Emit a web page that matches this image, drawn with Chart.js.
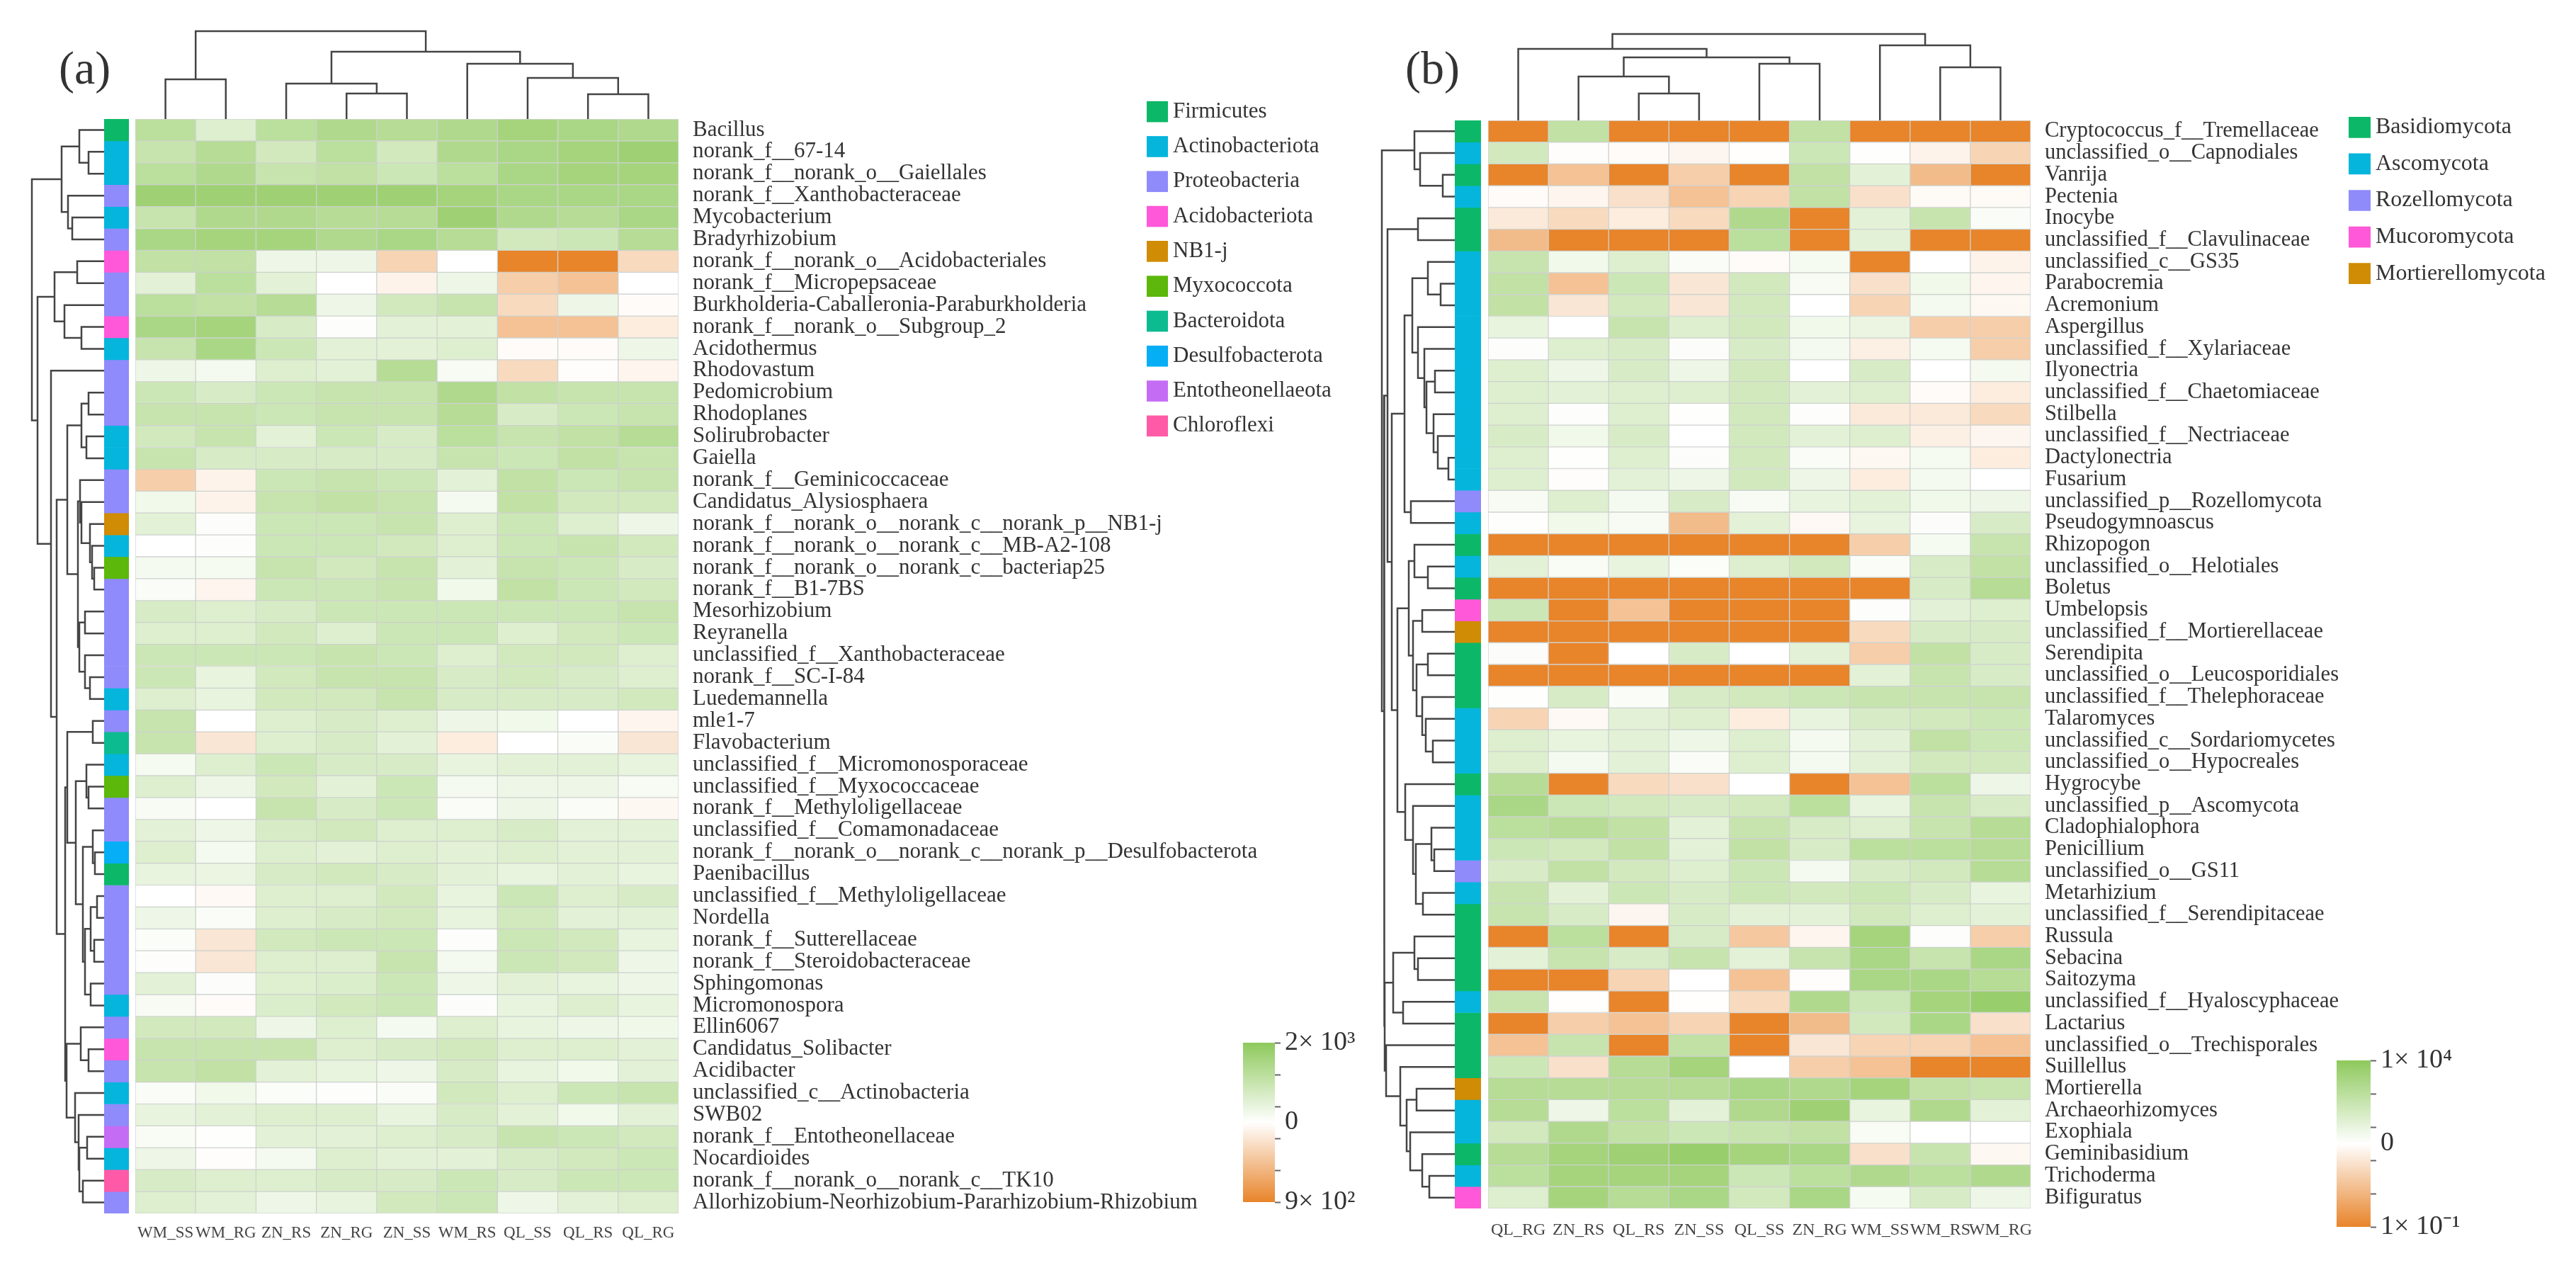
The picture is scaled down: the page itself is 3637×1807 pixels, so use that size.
<!DOCTYPE html>
<html>
<head>
<meta charset="utf-8">
<title>Heatmaps</title>
<script src="https://cdn.jsdelivr.net/npm/chart.js@4"></script>
<style>
  html, body { margin: 0; background: #fff; overflow: hidden; }
  canvas { position: absolute; }
  .panel { position: absolute; font-family: "Liberation Serif", serif; font-size: 66px; color: #333; line-height: 1; }
</style>
</head>
<body>
<div class="panel" style="left:83px;top:63px">(a)</div>
<div class="panel" style="left:1984px;top:63px">(b)</div>
<script>
// cell values are read as positions on each colour bar: -10 (bottom) .. 0 .. 10 (top)
const bacteriaSamples = ['WM_SS', 'WM_RG', 'ZN_RS', 'ZN_RG', 'ZN_SS', 'WM_RS', 'QL_SS', 'QL_RS', 'QL_RG'];
const bacteriaGenera = [
  'Bacillus', 'norank_f__67-14', 'norank_f__norank_o__Gaiellales', 'norank_f__Xanthobacteraceae', 'Mycobacterium',
  'Bradyrhizobium', 'norank_f__norank_o__Acidobacteriales', 'norank_f__Micropepsaceae',
  'Burkholderia-Caballeronia-Paraburkholderia', 'norank_f__norank_o__Subgroup_2', 'Acidothermus', 'Rhodovastum',
  'Pedomicrobium', 'Rhodoplanes', 'Solirubrobacter', 'Gaiella', 'norank_f__Geminicoccaceae', 'Candidatus_Alysiosphaera',
  'norank_f__norank_o__norank_c__norank_p__NB1-j', 'norank_f__norank_o__norank_c__MB-A2-108',
  'norank_f__norank_o__norank_c__bacteriap25', 'norank_f__B1-7BS', 'Mesorhizobium', 'Reyranella',
  'unclassified_f__Xanthobacteraceae', 'norank_f__SC-I-84', 'Luedemannella', 'mle1-7', 'Flavobacterium',
  'unclassified_f__Micromonosporaceae', 'unclassified_f__Myxococcaceae', 'norank_f__Methyloligellaceae',
  'unclassified_f__Comamonadaceae', 'norank_f__norank_o__norank_c__norank_p__Desulfobacterota', 'Paenibacillus',
  'unclassified_f__Methyloligellaceae', 'Nordella', 'norank_f__Sutterellaceae', 'norank_f__Steroidobacteraceae',
  'Sphingomonas', 'Micromonospora', 'Ellin6067', 'Candidatus_Solibacter', 'Acidibacter', 'unclassified_c__Actinobacteria',
  'SWB02', 'norank_f__Entotheonellaceae', 'Nocardioides', 'norank_f__norank_o__norank_c__TK10',
  'Allorhizobium-Neorhizobium-Pararhizobium-Rhizobium'
];
const bacteriaLevels = [
  [6, 3, 6, 7, 6.5, 7, 8, 7.5, 7],
  [5, 6.5, 4, 6, 4, 7, 7.5, 8, 8.5],
  [6, 7, 5, 5.5, 4.5, 6, 7.5, 8, 8],
  [8.5, 8.5, 8.5, 8.5, 8.5, 8, 7.5, 7.5, 7.5],
  [5, 7, 7, 6.5, 6.5, 8.5, 7, 6.5, 7.5],
  [7.5, 8, 8, 7, 7.5, 6.5, 4, 4.5, 6.5],
  [5.5, 5.5, 1.5, 1.5, -3.5, 0, -10, -10, -3],
  [2.5, 6, 2.5, 0, -1, 1.5, -4, -5, 0],
  [6, 5.5, 6.5, 1.5, 4, 5, -3, 1.5, -0.3],
  [7.5, 8, 3.5, 0.2, 2.5, 2.5, -5, -5, -1.5],
  [5, 7.5, 4.5, 2.5, 2.5, 3, -0.3, -0.3, 1.5],
  [1.5, 1, 3, 2.5, 6.5, 0.7, -3, -0.2, -0.8],
  [4.5, 3.5, 4.5, 5, 5, 7, 5.5, 5, 5],
  [5, 5, 4.5, 5, 5, 6.5, 3.5, 4.5, 5],
  [4, 5, 2.5, 4.5, 3.5, 6, 5, 5.5, 6.5],
  [5, 3.5, 3.5, 3.5, 3.5, 5, 4.5, 5.5, 5],
  [-4, -1, 4.5, 5, 4.5, 2.5, 5.5, 4.5, 5],
  [1.2, -1, 5, 5.5, 5, 1, 5.5, 4, 4],
  [2.5, 0.3, 4.5, 4.5, 5, 3, 4.5, 3, 1.5],
  [0, 0.2, 4.5, 4.5, 4, 3, 4.5, 5, 4],
  [1, 0.8, 5, 4, 5, 2.5, 5, 4.5, 3.5],
  [0.5, -0.8, 4.5, 4.5, 5, 1.2, 5.5, 4.5, 4],
  [3.5, 3, 3.5, 4.5, 4.5, 4.5, 4.5, 4.5, 5],
  [3, 3, 4, 3, 4.5, 4.5, 3, 4, 4.5],
  [4.5, 4.5, 4.5, 5, 4.5, 3, 4, 4, 3],
  [4.5, 2, 4, 5, 5, 3.5, 4, 3.5, 3],
  [3, 2, 4, 4, 5, 3.5, 3.5, 3.5, 4],
  [5, 0, 3, 3.5, 3, 1.5, 1.2, 0, -0.8],
  [5, -2, 3, 3.5, 2.5, -1.5, 0, 0.5, -2],
  [0.8, 3, 4.5, 3.5, 3.5, 2, 2.5, 2.5, 2],
  [3, 1.5, 4, 2.5, 4.5, 1, 1.5, 1.5, 0.7],
  [0.7, 0, 5, 3.5, 4.5, 0.5, 1.5, 0.5, -0.6],
  [2.5, 1.5, 3.5, 4, 3, 3, 3.5, 2.5, 2.5],
  [3, 1, 3, 2.5, 3, 2.5, 3, 2.5, 2.5],
  [2, 1.8, 3.5, 4, 3.5, 2.5, 2, 2.5, 2],
  [0, -0.5, 3, 3, 4, 2, 4.5, 3, 3.5],
  [1.5, 0.5, 3, 3.5, 4, 2, 4, 2.5, 2.5],
  [0.4, -2, 4, 4.5, 4.5, 0.2, 4.5, 4, 2],
  [0.2, -2, 3, 3, 5, 1, 4.5, 4, 1.5],
  [2.5, 0.3, 2.8, 3.2, 4.5, 1.5, 2.5, 2, 1.5],
  [0.7, -0.3, 3.2, 4, 4.5, 0.3, 2, 3, 2],
  [4, 4, 1.5, 3, 1, 3, 2, 1.5, 1.3],
  [5, 5, 5, 3, 3.5, 4, 3, 3, 2.5],
  [5, 5.5, 2.5, 2, 1.5, 3.5, 2, 1.2, 2.5],
  [0.5, 1.2, 0.4, 0.2, 0.5, 4, 3, 4.5, 5],
  [2, 2.5, 3, 3, 2, 3.5, 2.5, 1.2, 2.5],
  [0.6, 0.1, 2.5, 2.5, 3, 3.5, 5, 4.5, 4],
  [1.5, -0.2, 1, 3, 2.5, 2.5, 3.5, 4, 4.5],
  [3.5, 3, 3, 3.5, 3.5, 4.5, 3.5, 4.5, 4.5],
  [3, 2.5, 1.5, 2, 4, 4.5, 1.5, 2.5, 3]
];
const bacteriaPhyla = ['Firmicutes', 'Actinobacteriota', 'Proteobacteria', 'Acidobacteriota', 'NB1-j', 'Myxococcota', 'Bacteroidota', 'Desulfobacterota', 'Entotheonellaeota', 'Chloroflexi'];
const bacteriaPhylaColors = ['#0cb868', '#05b5dc', '#8f8bfb', '#ff58d8', '#d08c05', '#5cb80a', '#0dbb90', '#05aef5', '#c56cf5', '#ff5aa8'];
const bacteriaGenusPhylum = [0, 1, 1, 2, 1, 2, 3, 2, 2, 3, 1, 2, 2, 2, 1, 1, 2, 2, 4, 1, 5, 2, 2, 2, 2, 2, 1, 2, 6, 1, 5, 2, 2, 7, 0, 2, 2, 2, 2, 2, 1, 2, 3, 2, 1, 2, 8, 1, 9, 2];
// dendrograms: [height, left, right], a plain number is a leaf index
const bacteriaSampleTree = [124, [56, 0, 1], [95, [50, 2, [36, 3, 4]], [78, 5, [58, 6, [35, 7, 8]]]]];
const bacteriaGenusTree = [102,
  [60, [35, 0, [22, 1, 2]], [51, 3, [45, 4, 5]]],
  [94,
    [70, [38, 6, 7], [56, 8, [32, 9, 10]]],
    [75, 11, [67,
      [52,
        [32, [22, 12, 13], [25, 14, 15]],
        [37, [34, 16, [32, 17, [20, 18, [17, 19, [14, 20, 21]]]]], [35, [27, 22, 23], [27, 24, [20, 25, 26]]]]],
      [55,
        [52, [16, 27, 28], [40, [25, 29, [22, 30, 31]], [30, [16, 32, [13, 33, 34]], [27, [19, [10, 35, 36], [14, 37, 38]], [19, 39, 40]]]]],
        [53, [33, 41, [22, 42, 43]], [41, 44, [36, 45, [35, [24, 46, 47], [30, 48, 49]]]]]
      ]
    ]]
  ]
];

const fungiSamples = ['QL_RG', 'ZN_RS', 'QL_RS', 'ZN_SS', 'QL_SS', 'ZN_RG', 'WM_SS', 'WM_RS', 'WM_RG'];
const fungiGenera = [
  'Cryptococcus_f__Tremellaceae', 'unclassified_o__Capnodiales', 'Vanrija', 'Pectenia', 'Inocybe',
  'unclassified_f__Clavulinaceae', 'unclassified_c__GS35', 'Parabocremia', 'Acremonium', 'Aspergillus',
  'unclassified_f__Xylariaceae', 'Ilyonectria', 'unclassified_f__Chaetomiaceae', 'Stilbella', 'unclassified_f__Nectriaceae',
  'Dactylonectria', 'Fusarium', 'unclassified_p__Rozellomycota', 'Pseudogymnoascus', 'Rhizopogon', 'unclassified_o__Helotiales',
  'Boletus', 'Umbelopsis', 'unclassified_f__Mortierellaceae', 'Serendipita', 'unclassified_o__Leucosporidiales',
  'unclassified_f__Thelephoraceae', 'Talaromyces', 'unclassified_c__Sordariomycetes', 'unclassified_o__Hypocreales', 'Hygrocybe',
  'unclassified_p__Ascomycota', 'Cladophialophora', 'Penicillium', 'unclassified_o__GS11', 'Metarhizium',
  'unclassified_f__Serendipitaceae', 'Russula', 'Sebacina', 'Saitozyma', 'unclassified_f__Hyaloscyphaceae', 'Lactarius',
  'unclassified_o__Trechisporales', 'Suillellus', 'Mortierella', 'Archaeorhizomyces', 'Exophiala', 'Geminibasidium',
  'Trichoderma', 'Bifiguratus'
];
const fungiLevels = [
  [-10, 5.5, -10, -10, -10, 5.5, -10, -10, -10],
  [4, -0.2, -0.3, -0.7, -0.1, 4.5, 0.1, -1, -3.5],
  [-10, -5, -10, -4, -10, 5.5, 2.5, -5.5, -10],
  [-0.3, -0.8, -2.5, -5, -3.5, 5.5, -2.5, -0.4, -0.4],
  [-1.8, -3, -1.5, -3, 7, -10, 2.5, 5, 0.5],
  [-5.5, -10, -10, -10, 6, -10, 2.5, -10, -10],
  [5, 1.2, 3, 0.5, -0.3, 0.8, -10, 0, -1],
  [5.5, -5, 4.5, -2, 4, 0.7, -2.5, 1.2, -0.8],
  [5.5, -2, 4, -2, 4, 0, -3.5, 1, -0.6],
  [2, 0, 5, 3, 4, 1.2, 1.8, -4, -4],
  [0.2, 3, 3.5, 0.3, 3.5, 1, -1.3, 0.8, -4],
  [3, 1.5, 3.5, 1.5, 4, 0, 3.5, 0, 1],
  [3, 2.5, 3, 3, 4, 2.5, 3, -0.3, -1.5],
  [3, 0.2, 3, 0.1, 4, 0.2, -1.8, -1.8, -3],
  [3.5, 1.2, 3.5, 0, 4, 2.5, 3, -1.2, -0.7],
  [3, 0.1, 3, 0.3, 4, 0.5, -0.6, 0.8, -1.5],
  [3, -0.2, 2.5, 1.5, 4, 1.5, -1.5, 1, 0],
  [0.7, 3, 1, 3.5, 0.7, 2, 2.5, 1.2, 1.5],
  [0.1, 1.2, 0.7, -5.5, 2.5, -0.5, 2, 0.3, 3.5],
  [-10, -10, -10, -10, -10, -10, -4, 0.8, 5],
  [2.5, 0.6, 2, 0.4, 3, 4, 0.5, 3.5, 5.5],
  [-10, -10, -10, -10, -10, -10, -10, 3.5, 6.5],
  [4.5, -10, -5, -10, -10, -10, 0.2, 2.5, 3],
  [-10, -10, -10, -10, -10, -10, -3, 3.5, 3.5],
  [0.3, -10, 0, 3.5, 0, 2.5, -4, 5.5, 3.5],
  [-10, -10, -10, -10, -10, -10, 2.5, 5, 3.5],
  [0.1, 3.5, 0.5, 3.5, 4, 4.5, 5, 5, 5],
  [-3.5, -0.5, 2.5, 3, -1.5, 2, 3.5, 4, 4.5],
  [3, 2, 2.5, 1.5, 3, 1, 2.5, 5.5, 4.5],
  [3, 1, 2.5, 0.5, 3, 1, 2.5, 4, 4],
  [6.5, -10, -3, -2.5, 0, -10, -5, 6, 1.5],
  [7.5, 4.5, 4, 3.5, 4, 6, 2, 5, 3.5],
  [6, 6.5, 5.5, 2.5, 5, 3.5, 3, 5, 6.5],
  [4.5, 4, 5.5, 2.5, 5.5, 3.5, 6, 6, 6.5],
  [3.5, 5.5, 4, 3, 4.5, 1, 3.5, 4, 6.5],
  [5, 2.5, 4.5, 3.5, 4.5, 4, 4.5, 3.5, 2],
  [5, 3.5, -0.7, 3.5, 2.5, 2.5, 4, 3, 2.5],
  [-10, 6, -10, 3.5, -4.5, -0.8, 8, 0.2, -4],
  [2.5, 5, 3.5, 5, 2.5, 5, 7.5, 5, 7.5],
  [-10, -10, -3.5, 0, -5, -0.2, 7.5, 7.5, 6.5],
  [5, -0.1, -10, -0.1, -3, 7, 4.5, 8, 9],
  [-10, -4, -5, -3.5, -10, -5.5, 4, 7.5, -2.5],
  [-5, 5, -10, 5.5, -10, -2, -3.5, -3.5, -5],
  [4.5, -2.5, 6.5, 8, 0, -4, -5, -10, -10],
  [6.5, 6.5, 6.5, 6.5, 7.5, 7, 8, 5.5, 5],
  [6.5, 1.5, 6, 2.5, 7, 8.5, 2, 7, 2.5],
  [4, 7, 5.5, 4.5, 5, 5.5, 0.6, 0, 0],
  [6.5, 8, 8.5, 9, 8, 7.5, -2.5, 5, -0.6],
  [6, 8, 8, 8, 4.5, 6, 7, 6, 7],
  [3, 8, 6.5, 7.5, 4, 7.5, 0.8, 3.5, 1.5]
];
const fungiPhyla = ['Basidiomycota', 'Ascomycota', 'Rozellomycota', 'Mucoromycota', 'Mortierellomycota'];
const fungiPhylaColors = ['#0cb868', '#05b5dc', '#8f8bfb', '#ff58d8', '#d08c05'];
const fungiGenusPhylum = [0, 1, 0, 1, 0, 0, 1, 1, 1, 1, 1, 1, 1, 1, 1, 1, 1, 2, 1, 0, 1, 0, 3, 4, 0, 0, 0, 1, 1, 1, 0, 1, 1, 1, 2, 1, 0, 0, 0, 0, 1, 0, 0, 0, 4, 1, 1, 0, 1, 3];
const fungiSampleTree = [122, [101, 0, [89, [62, 1, [38, 2, 3]], [80, 4, 5]]], [106, 6, [75, 7, 8]]];
const fungiGenusTree = [103,
  [57, 0, [49, 1, [17, 2, 3]]],
  [100,
    [95, [52, 4, 5], [89,
      [71, [60, [38, 6, [20, 7, 8]], [52, 9, [43, 10, [40, [28, 11, 12], [30, 13, [24, 14, [9, 15, 16]]]]]]], [62, 17, 18]],
      [81,
        [65, [57, 19, [38, 20, 21]], [59, [46, 22, 23], [54, [38, 24, 25], [46, 26, [41, 27, [31, 28, 29]]]]]],
        [70, 30, [59, 31, [55, [33, 32, [29, 33, 34]], [45, 35, 36]]]]]]],
    [99,
      [87, [57, 37, [52, 38, 39]], [73, 40, 41]],
      [97, 42, [77, 43, [68, [54, 44, 45], [63, 46, [46, 47, [36, 48, 49]]]]]]]]
];

const serif = '"Liberation Serif", "Times New Roman", serif';
const textColor = '#333';
const lineColor = '#444';

function addCanvas(left, top, width, height) {
  const c = document.createElement('canvas');
  c.width = width; c.height = height;
  c.style.left = left + 'px'; c.style.top = top + 'px';
  c.style.width = width + 'px'; c.style.height = height + 'px';
  document.body.appendChild(c);
  return c;
}

function mix(a, b, t) {
  return 'rgb(' + a.map((v, i) => Math.round(v + (b[i] - v) * t)).join(',') + ')';
}
function levelColor(level) {
  const white = [255, 255, 255];
  return level >= 0 ? mix(white, [142, 201, 92], level / 10) : mix(white, [232, 132, 42], -level / 10);
}

const baseOptions = {
  responsive: false,
  animation: false,
  events: [],
  plugins: { legend: { display: false }, tooltip: { enabled: false } }
};

// tick labels would otherwise push the chart area in by half a label
function fixSize(s, width, height) {
  if (width !== null) s.width = width;
  if (height !== null) s.height = height;
  s.paddingLeft = s.paddingRight = s.paddingTop = s.paddingBottom = 0;
}

// stacked unit bars, one dataset per row, so every row gets a slot of the y scale
function gridChart(box, cols, rows, cellColors, o) {
  const labelRoom = o.labelRoom || 0, footRoom = o.footRoom || 0;
  new Chart(addCanvas(box.left, box.top, box.width + labelRoom, box.height + footRoom), {
    type: 'bar',
    data: {
      labels: cols,
      datasets: rows.map((name, r) => ({
        label: name,
        data: cols.map(() => 1),
        backgroundColor: cellColors[r],
        borderColor: o.edge || 'transparent',
        borderWidth: o.edge ? 1 : 0,
        borderSkipped: false,
        barPercentage: 1,
        categoryPercentage: 1
      }))
    },
    options: {
      ...baseOptions,
      layout: { padding: 0 },
      scales: {
        x: {
          stacked: true,
          display: footRoom > 0,
          grid: { display: false, drawTicks: false },
          border: { display: false },
          afterFit: s => fixSize(s, null, footRoom),
          ticks: { autoSkip: false, maxRotation: 0, minRotation: 0, padding: o.footPad || 0, color: '#444', font: { family: serif, size: o.footSize || 23 } }
        },
        y: {
          stacked: true,
          reverse: true,
          min: 0,
          max: rows.length,
          position: 'right',
          display: labelRoom > 0,
          grid: { display: false, drawTicks: false },
          border: { display: false },
          afterFit: s => fixSize(s, labelRoom, null),
          afterBuildTicks: s => { s.ticks = rows.map((_, i) => ({ value: i + 0.5 })); },
          ticks: {
            autoSkip: false,
            padding: 20,
            color: textColor,
            font: { family: serif, size: o.rowSize || 30.5 },
            callback: v => rows[Math.floor(v)]
          }
        }
      }
    }
  });
}

// walks a [height, left, right] tree and lists its elbow lines, NaN breaks the line
function treeLines(node, toPoint, out) {
  if (typeof node === 'number') return { pos: node + 0.5, h: 0 };
  const a = treeLines(node[1], toPoint, out);
  const b = treeLines(node[2], toPoint, out);
  const h = node[0];
  out.push(toPoint(a.pos, a.h), toPoint(a.pos, h), toPoint(b.pos, h), toPoint(b.pos, b.h), { x: NaN, y: NaN });
  return { pos: (a.pos + b.pos) / 2, h: h };
}

function treeChart(box, tree, horizontal, leafCount) {
  const pts = [];
  treeLines(tree, horizontal ? (p, h) => ({ x: h, y: p }) : (p, h) => ({ x: p, y: h }), pts);
  const hidden = { display: false };
  new Chart(addCanvas(box.left, box.top, box.width, box.height), {
    type: 'scatter',
    data: { datasets: [{ data: pts, showLine: true, pointRadius: 0, borderColor: lineColor, borderWidth: 2.5, clip: false, spanGaps: false }] },
    options: {
      ...baseOptions,
      layout: { padding: 0 },
      scales: horizontal
        ? { x: { ...hidden, min: 0, max: box.width, reverse: true }, y: { ...hidden, min: 0, max: leafCount, reverse: true } }
        : { x: { ...hidden, min: 0, max: leafCount }, y: { ...hidden, min: 0, max: box.height } }
    }
  });
}

function legendChart(box, names, colors, size) {
  new Chart(addCanvas(box.left, box.top, box.swatch + 340, box.height), {
    type: 'bar',
    data: { labels: names, datasets: [{ data: names.map(() => 1), backgroundColor: colors, barThickness: 29 }] },
    options: {
      ...baseOptions,
      indexAxis: 'y',
      layout: { padding: 0 },
      scales: {
        x: { display: false, min: 0, max: 1 },
        y: {
          position: 'right',
          grid: { display: false, drawTicks: false },
          border: { display: false },
          afterFit: s => fixSize(s, 340, null),
          ticks: { autoSkip: false, padding: 7, color: textColor, font: { family: serif, size: size } }
        }
      }
    }
  });
}

function colorBar(box, labels) {
  const pad = 30;
  new Chart(addCanvas(box.left, box.top - pad, box.width + 170, box.height + pad * 2), {
    type: 'bar',
    data: {
      labels: [''],
      datasets: [{
        data: [[-10, 10]],
        barPercentage: 1,
        categoryPercentage: 1,
        backgroundColor: ctx => {
          const area = ctx.chart.chartArea;
          if (!area) return levelColor(0);
          const g = ctx.chart.ctx.createLinearGradient(0, area.bottom, 0, area.top);
          g.addColorStop(0, levelColor(-10));
          g.addColorStop(0.5, levelColor(0));
          g.addColorStop(1, levelColor(10));
          return g;
        }
      }]
    },
    options: {
      ...baseOptions,
      layout: { padding: { top: pad, bottom: pad } },
      scales: {
        x: { display: false },
        y: {
          position: 'right',
          min: -10,
          max: 10,
          border: { display: false },
          afterFit: s => fixSize(s, 170, null),
          afterBuildTicks: s => { s.ticks = [10, 6, 2, 0, -2, -6, -10].map(v => ({ value: v })); },
          grid: {
            drawOnChartArea: false,
            drawTicks: true,
            tickLength: 8,
            tickWidth: 2,
            tickColor: c => (c.tick && c.tick.value === 0 ? 'transparent' : '#666')
          },
          ticks: {
            autoSkip: false,
            padding: 6,
            color: textColor,
            font: { family: serif, size: 38 },
            callback: v => (v === 10 ? labels[0] : v === 0 ? labels[1] : v === -10 ? labels[2] : '')
          }
        }
      }
    }
  });
}

const cellEdge = 'rgba(200,205,200,0.85)';

function drawPanel(p) {
  gridChart(p.heat, p.samples, p.genera, p.levels.map(row => row.map(levelColor)),
    { edge: cellEdge, labelRoom: 850, footRoom: p.footRoom, footPad: p.footPad, footSize: p.footSize, rowSize: p.rowSize });
  gridChart(p.strip, [''], p.genera, p.genusPhylum.map(i => [p.phylaColors[i]]), {});
  treeChart({ left: p.strip.left - 110, top: p.heat.top, width: 110, height: p.heat.height }, p.genusTree, true, p.genera.length);
  treeChart({ left: p.heat.left, top: p.heat.top - 130, width: p.heat.width, height: 130 }, p.sampleTree, false, p.samples.length);
  legendChart(p.legend, p.phyla, p.phylaColors, p.legendSize);
  colorBar(p.bar, p.barLabels);
}

drawPanel({
  samples: bacteriaSamples, genera: bacteriaGenera, levels: bacteriaLevels,
  phyla: bacteriaPhyla, phylaColors: bacteriaPhylaColors, genusPhylum: bacteriaGenusPhylum,
  genusTree: bacteriaGenusTree, sampleTree: bacteriaSampleTree,
  heat: { left: 191, top: 168, width: 767, height: 1545 },
  strip: { left: 147, top: 168, width: 35, height: 1545 },
  footRoom: 50, footPad: 14, footSize: 23, rowSize: 31,
  legend: { left: 1619, top: 133, swatch: 30, height: 493 }, legendSize: 31,
  bar: { left: 1755, top: 1472, width: 45, height: 225 }, barLabels: ['2× 10³', '0', '9× 10²']
});
drawPanel({
  samples: fungiSamples, genera: fungiGenera, levels: fungiLevels,
  phyla: fungiPhyla, phylaColors: fungiPhylaColors, genusPhylum: fungiGenusPhylum,
  genusTree: fungiGenusTree, sampleTree: fungiSampleTree,
  heat: { left: 2101, top: 170, width: 766, height: 1536 },
  strip: { left: 2054, top: 170, width: 37, height: 1536 },
  footRoom: 50, footPad: 16, footSize: 24, rowSize: 30.5,
  legend: { left: 3316, top: 154, swatch: 31, height: 258 }, legendSize: 32,
  bar: { left: 3299, top: 1497, width: 48, height: 235 }, barLabels: ['1× 10⁴', '0', '1× 10⁻¹']
});
</script>
</body>
</html>
